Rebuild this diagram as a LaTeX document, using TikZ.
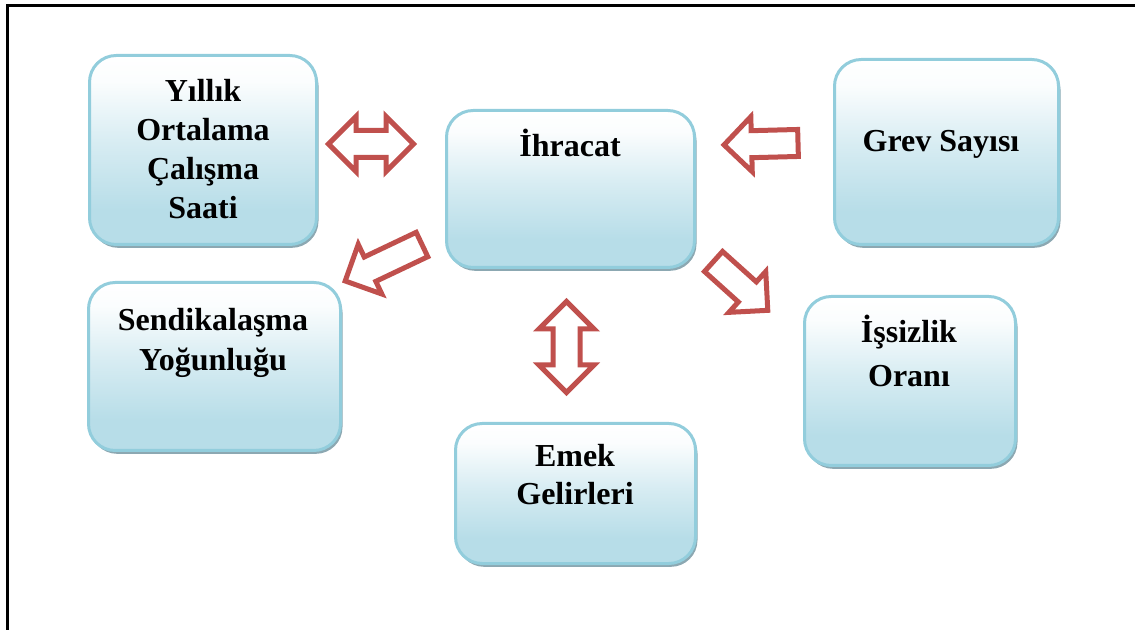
\documentclass[tikz,border=0pt]{standalone}
\usepackage{fontspec}
\setmainfont{Liberation Serif}
\usetikzlibrary{shapes.arrows,shadows}

\definecolor{boxblue}{RGB}{183,221,232}
\definecolor{boxline}{RGB}{146,205,220}
\definecolor{boxshadow}{RGB}{140,168,178}
\definecolor{arrred}{RGB}{192,80,77}
\pgfdeclareverticalshading{boxshade}{100bp}{color(0bp)=(boxblue); color(25bp)=(boxblue);
  color(34bp)=(boxblue); color(52bp)=(boxblue!55!white); color(68bp)=(boxblue!6!white);
  color(75bp)=(white); color(100bp)=(white)}

\begin{document}
\begin{tikzpicture}[
    x=0.75pt, y=-0.75pt,
    box/.style  = {draw=boxline, line width=2.25pt, rounded corners=20pt,
                   shading=boxshade, inner sep=0pt,
                   drop shadow={shadow xshift=1.5pt, shadow yshift=-2.5pt,
                                fill=boxshadow, opacity=1}},
    lbl/.style  = {font=\bfseries\fontsize{24}{#1}\selectfont,
                   align=center, inner sep=0pt},
    lbl/.default = 29,
    sarr/.style = {single arrow, draw=arrred, fill=white, line width=3.75pt,
                   inner sep=0pt, inner ysep=8.25pt,
                   single arrow head extend=10.5pt},
    darr/.style = {double arrow, draw=arrred, fill=white, line width=3.75pt,
                   inner sep=0pt, inner ysep=8.25pt,
                   double arrow head extend=10.5pt},
]
\useasboundingbox (0,0) rectangle (1135,630);

% ============ frame ============
\draw[line width=2.25pt] (7,640) -- (7,6) -- (1145,6);

% ============ boxes ============
\node[box, minimum width=170.25pt, minimum height=141.75pt] (yil)  at (203,150)   {};
\node[box, minimum width=186pt,    minimum height=117.75pt] (ihr)  at (570.5,189) {};
\node[box, minimum width=168pt,    minimum height=138.75pt] (grev) at (946.5,152) {};
\node[box, minimum width=189pt,    minimum height=126pt]    (sen)  at (214.5,366.5) {};
\node[box, minimum width=158.25pt, minimum height=126.75pt] (iss)  at (910,381)   {};
\node[box, minimum width=180pt,    minimum height=105pt]    (emek) at (575.5,493.5) {};

% ============ labels ============
\node[lbl=29.25] (yil-t)  at (203,149)   {Yıllık\\Ortalama\\Çalışma\\Saati};
\node[lbl]       (ihr-t)  at (570,143)   {İhracat};
\node[lbl]       (grev-t) at (941,144.5) {Grev Sayısı};
\node[lbl=30]    (sen-t)  at (213,342.5) {Sendikalaşma\\Yoğunluğu};
\node[lbl=33]    (iss-t)  at (909,351)   {İşsizlik\\Oranı};
\node[lbl=28.5]  (emek-t) at (575,475)   {Emek\\Gelirleri};

% ============ block arrows ============
\node[darr, minimum height=63.75pt]           (a-yil)  at (371,144)   {};
\node[darr, minimum height=68.25pt, rotate=90] (a-emek) at (566.5,347) {};
\node[sarr, minimum height=55.5pt, rotate=181.5, anchor=tip]  (a-grev) at (720.5,145)   {};
\node[sarr, minimum height=63.75pt, rotate=205.4, anchor=tip] (a-sen)  at (342,282.5)   {};
\node[sarr, minimum height=54.75pt, rotate=-42, anchor=tip]   (a-iss)  at (770.4,312.7) {};

\end{tikzpicture}
\end{document}
